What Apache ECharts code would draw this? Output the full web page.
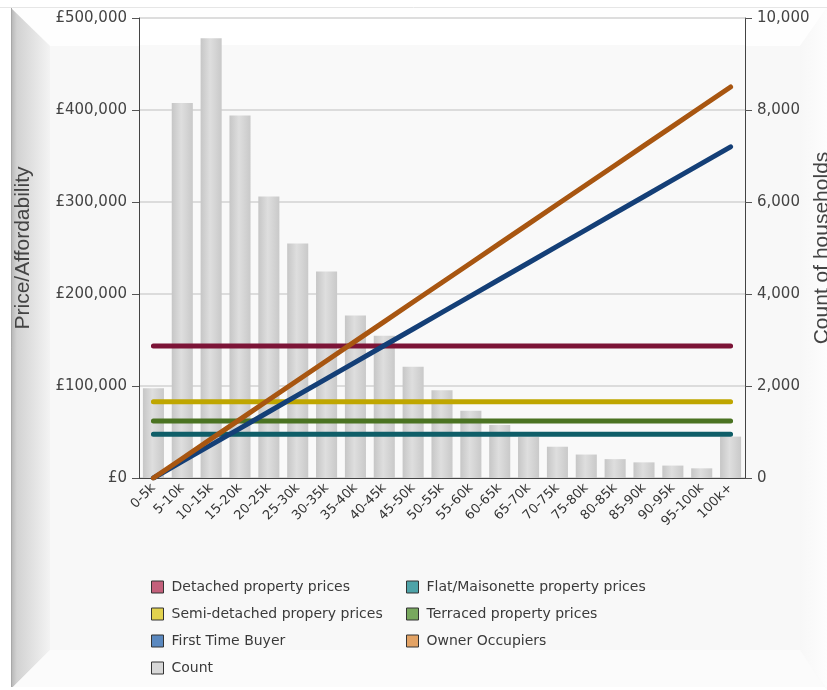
<!DOCTYPE html>
<html>
<head>
<meta charset="utf-8">
<script src="https://cdn.jsdelivr.net/npm/echarts@6/dist/echarts.min.js"></script>
<style>
html,body{margin:0;padding:0;background:#ffffff;}
#chart{width:827px;height:690px;}
</style>
</head>
<body>
<div id="chart"></div>
<script>
const categories = ['0-5k','5-10k','10-15k','15-20k','20-25k','25-30k','30-35k','35-40k','40-45k','45-50k','50-55k','55-60k','60-65k','65-70k','70-75k','75-80k','80-85k','85-90k','90-95k','95-100k','100k+'];
const countValues = [1950, 8150, 9560, 7880, 6120, 5100, 4490, 3530, 3090, 2420, 1910, 1460, 1150, 890, 680, 510, 410, 340, 270, 210, 900];
const detachedPrices = [143500,143500,143500,143500,143500,143500,143500,143500,143500,143500,143500,143500,143500,143500,143500,143500,143500,143500,143500,143500,143500];
const flatPrices = [47500,47500,47500,47500,47500,47500,47500,47500,47500,47500,47500,47500,47500,47500,47500,47500,47500,47500,47500,47500,47500];
const semiPrices = [83000,83000,83000,83000,83000,83000,83000,83000,83000,83000,83000,83000,83000,83000,83000,83000,83000,83000,83000,83000,83000];
const terracedPrices = [62000,62000,62000,62000,62000,62000,62000,62000,62000,62000,62000,62000,62000,62000,62000,62000,62000,62000,62000,62000,62000];
const firstTimeBuyer = [0,18000,36000,54000,72000,90000,108000,126000,144000,162000,180000,198000,216000,234000,252000,270000,288000,306000,324000,342000,360000];
const ownerOccupiers = [0,21250,42500,63750,85000,106250,127500,148750,170000,191250,212500,233750,255000,276250,297500,318750,340000,361250,382500,403750,425000];
const leftTicks = [0, 100000, 200000, 300000, 400000, 500000];
const rightTicks = [0, 2000, 4000, 6000, 8000, 10000];

const chart = echarts.init(document.getElementById('chart'), null, {renderer: 'canvas'});

function fmt(n){ return n.toString().replace(/\B(?=(\d{3})+(?!\d))/g, ','); }

const lineSeries = (name, data, color) => ({
  name, type: 'line', data, yAxisIndex: 0, symbol: 'none', color,
  lineStyle: {width: 5, color, cap: 'round'},
  emphasis: {disabled: true}, z: 3
});

const legendText = {fontFamily: 'DejaVu Sans', fontSize: 14, color: '#3a3a3a', padding: [0,0,0,3]};
const legendBorder = {borderColor: '#333', borderWidth: 1};

const option = {
  animation: false,
  backgroundColor: '#f8f8f8',
  graphic: [
    {type: 'rect', shape: {x: 0, y: 0, width: 827, height: 8}, style: {fill: '#ffffff'}, z: -10, silent: true},
    {type: 'rect', shape: {x: 0, y: 687, width: 827, height: 3}, style: {fill: '#ffffff'}, z: -10, silent: true},
    {type: 'rect', shape: {x: 0, y: 0, width: 11, height: 690}, style: {fill: '#ffffff'}, z: -10, silent: true},
    {type: 'polygon', shape: {points: [[11,8],[827,8],[800,46],[50,46]]}, style: {fill: '#fefefe'}, z: -9, silent: true},
    {type: 'polygon', shape: {points: [[11,8],[50,46],[50,650],[13,687],[11,687]]},
      style: {fill: new echarts.graphic.LinearGradient(0,0,1,0,[{offset:0,color:'#b4b4b4'},{offset:0.15,color:'#d2d2d2'},{offset:1,color:'#f3f3f3'}])}, z: -9, silent: true},
    {type: 'polygon', shape: {points: [[827,8],[800,46],[800,650],[827,690]]},
      style: {fill: new echarts.graphic.LinearGradient(0,0,1,0,[{offset:0,color:'#f7f7f7'},{offset:1,color:'#fdfdfd'}])}, z: -9, silent: true},
    {type: 'polygon', shape: {points: [[13,687],[50,650],[800,650],[827,690],[827,687]]}, style: {fill: '#fbfbfb'}, z: -9, silent: true},
    {type: 'line', shape: {x1: 0, y1: 7.5, x2: 827, y2: 7.5}, style: {stroke: '#e6e6e6', lineWidth: 1}, z: -8, silent: true},
    {type: 'line', shape: {x1: 11.5, y1: 8, x2: 11.5, y2: 687}, style: {stroke: '#a8a8a8', lineWidth: 1}, z: -8, silent: true},
    {type: 'rect', shape: {x: 139, y: 18, width: 606, height: 460}, style: {fill: '#f9f9f9'}, z: -7, silent: true},
    {type: 'rect', shape: {x: 139, y: 18, width: 606, height: 27}, style: {fill: '#ffffff'}, z: -7, silent: true}
  ],
  grid: {left: 139, right: 82, top: 18, bottom: 212, containLabel: false, outerBoundsMode: 'none'},
  legend: [
    {
      orient: 'vertical', left: 151, top: 580, padding: 0, itemWidth: 12, itemHeight: 12, itemGap: 13,
      icon: 'rect', textStyle: legendText, itemStyle: legendBorder, selectedMode: false,
      data: [
        {name: 'Detached property prices', itemStyle: {color: '#c3607b', borderColor: '#333', borderWidth: 1}},
        {name: 'Semi-detached propery prices', itemStyle: {color: '#e2d24e', borderColor: '#333', borderWidth: 1}},
        {name: 'First Time Buyer', itemStyle: {color: '#5a88bf', borderColor: '#333', borderWidth: 1}},
        {name: 'Count', itemStyle: {color: '#d8d8d8', borderColor: '#333', borderWidth: 1}}
      ]
    },
    {
      orient: 'vertical', left: 406, top: 580, padding: 0, itemWidth: 12, itemHeight: 12, itemGap: 13,
      icon: 'rect', textStyle: legendText, itemStyle: legendBorder, selectedMode: false,
      data: [
        {name: 'Flat/Maisonette property prices', itemStyle: {color: '#4ea3a8', borderColor: '#333', borderWidth: 1}},
        {name: 'Terraced property prices', itemStyle: {color: '#78a85e', borderColor: '#333', borderWidth: 1}},
        {name: 'Owner Occupiers', itemStyle: {color: '#e2a264', borderColor: '#333', borderWidth: 1}}
      ]
    }
  ],
  xAxis: {
    type: 'category', data: categories, boundaryGap: true,
    axisLine: {lineStyle: {color: '#444', width: 1}},
    axisTick: {alignWithLabel: true, length: 6, lineStyle: {color: '#333'}},
    axisLabel: {rotate: 45, interval: 0, margin: 8, fontFamily: 'DejaVu Sans', fontSize: 13, color: '#333'}
  },
  yAxis: [
    {
      type: 'value', min: 0, max: 500000, interval: 100000, position: 'left',
      name: 'Price/Affordability', nameLocation: 'middle', nameRotate: 90, nameGap: 105, nameMoveOverlap: false,
      nameTextStyle: {fontFamily: 'Liberation Sans', fontSize: 21, color: '#444'},
      axisLine: {show: true, lineStyle: {color: '#444'}},
      axisTick: {show: true, length: 7, lineStyle: {color: '#555'}},
      axisLabel: {margin: 12, fontFamily: 'DejaVu Sans', fontSize: 15, color: '#444',
        formatter: v => leftTicks.includes(v) ? '£' + fmt(v) : ''},
      splitLine: {show: true, lineStyle: {color: '#d2d2d2', width: 1.5}}
    },
    {
      type: 'value', min: 0, max: 10000, interval: 2000, position: 'right',
      name: 'Count of households', nameLocation: 'middle', nameRotate: 90, nameGap: 67, nameMoveOverlap: false,
      nameTextStyle: {fontFamily: 'Liberation Sans', fontSize: 21, color: '#444'},
      axisLine: {show: true, lineStyle: {color: '#444'}},
      axisTick: {show: true, length: 7, lineStyle: {color: '#555'}},
      axisLabel: {margin: 12, fontFamily: 'DejaVu Sans', fontSize: 15, color: '#444',
        formatter: v => rightTicks.includes(v) ? fmt(v) : ''},
      splitLine: {show: false}
    }
  ],
  series: [
    {
      name: 'Count', type: 'bar', yAxisIndex: 1, data: countValues, barCategoryGap: '27%',
      color: '#d3d3d3',
      itemStyle: {color: new echarts.graphic.LinearGradient(0,0,1,0,[{offset:0,color:'#c6c6c6'},{offset:0.45,color:'#dedede'},{offset:1,color:'#c9c9c9'}])},
      emphasis: {disabled: true}, z: 2
    },
    lineSeries('Detached property prices', detachedPrices, '#7c1437'),
    lineSeries('Semi-detached propery prices', semiPrices, '#bfa600'),
    lineSeries('Terraced property prices', terracedPrices, '#4b7322'),
    lineSeries('Flat/Maisonette property prices', flatPrices, '#0f5e68'),
    lineSeries('First Time Buyer', firstTimeBuyer, '#143f77'),
    lineSeries('Owner Occupiers', ownerOccupiers, '#a85611')
  ]
};
chart.setOption(option);
</script>
</body>
</html>
